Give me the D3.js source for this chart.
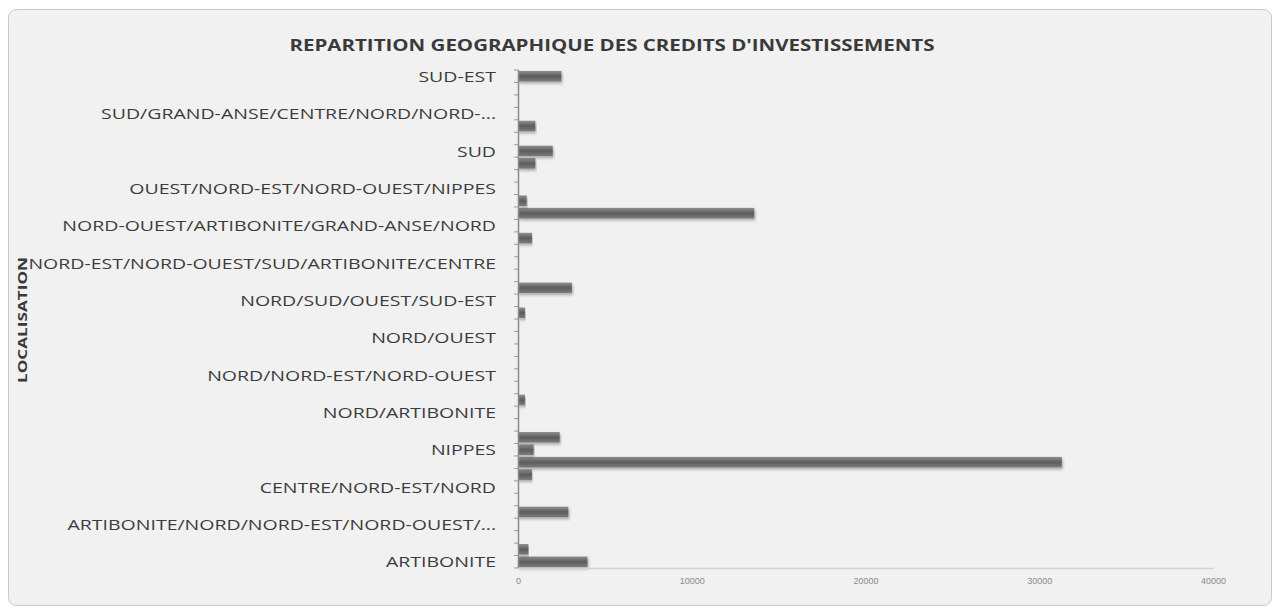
<!DOCTYPE html>
<html><head><meta charset="utf-8">
<script src="https://cdn.jsdelivr.net/npm/d3@7"></script>
<style>
html,body{margin:0;padding:0;background:#fff;}
svg{display:block;}
</style></head>
<body>
<svg id="c" width="1280" height="610"></svg>
<script>
const categories = [
"ARTIBONITE","ARTIBONITE/CENTRE","ARTIBONITE/NORD","ARTIBONITE/NORD/NORD-EST/NORD-OUEST/...","ARTIBONITE/OUEST",
"CENTRE","CENTRE/NORD-EST/NORD","GRAND-ANSE","NATIONAL","NIPPES",
"NORD","NORD-EST","NORD/ARTIBONITE","NORD/CENTRE","NORD/NORD-EST",
"NORD/NORD-EST/NORD-OUEST","NORD/NORD-OUEST","NORD/NORD-OUEST/ARTIBONITE","NORD/OUEST","NORD/SUD",
"NORD/SUD/OUEST","NORD/SUD/OUEST/SUD-EST","NORD/SUD-EST","NORD-EST/CENTRE","NORD-EST/NORD-OUEST/SUD/ARTIBONITE/CENTRE",
"NORD-OUEST","NORD-OUEST/ARTIBONITE","NORD-OUEST/ARTIBONITE/GRAND-ANSE/NORD","OUEST","OUEST/NIPPES",
"OUEST/NORD-EST/NORD-OUEST/NIPPES","OUEST/SUD","OUEST/SUD-EST","SUD","SUD/GRAND-ANSE",
"SUD/GRAND-ANSE/CENTRE","SUD/GRAND-ANSE/CENTRE/NORD/NORD-...","SUD/NIPPES","SUD/OUEST","SUD-EST"
];
const values = [
4000,600,0,0,2900,
0,0,800,31300,900,
2400,0,0,400,0,
0,0,0,0,0,
400,0,3100,0,0,
0,800,0,13600,500,
0,0,1000,2000,0,
1000,0,0,0,2500
];
const xTicks = [0,10000,20000,30000,40000];
const xTickLabels = ["0","10000","20000","30000","40000"];
const title = "REPARTITION GEOGRAPHIQUE DES CREDITS D'INVESTISSEMENTS";
const yTitle = "LOCALISATION";

const svg = d3.select("#c");
const defs = svg.append("defs");
const g1 = defs.append("linearGradient").attr("id","barg").attr("x1",0).attr("y1",0).attr("x2",0).attr("y2",1);
g1.append("stop").attr("offset","0%").attr("stop-color","#909090");
g1.append("stop").attr("offset","50%").attr("stop-color","#5c5c5c");
g1.append("stop").attr("offset","100%").attr("stop-color","#7c7c7c");
const flt = defs.append("filter").attr("id","sh").attr("x","-5%").attr("y","-50%").attr("width","110%").attr("height","220%");
flt.append("feGaussianBlur").attr("in","SourceAlpha").attr("stdDeviation",1.5).attr("result","b");
flt.append("feOffset").attr("in","b").attr("dx",1).attr("dy",2).attr("result","o");
flt.append("feComponentTransfer").attr("in","o").attr("result","o2").append("feFuncA").attr("type","linear").attr("slope",0.3);
const fm = flt.append("feMerge"); fm.append("feMergeNode").attr("in","o2"); fm.append("feMergeNode").attr("in","SourceGraphic");

// chart background
svg.append("rect").attr("x",8.5).attr("y",9.5).attr("width",1263).attr("height",596)
  .attr("rx",8).attr("fill","#f1f1f1").attr("stroke","#c9c9c9").attr("stroke-width",1);

const pLeft = 518, pRight = 1213, pTop = 70, pBottom = 568;
const x = d3.scaleLinear().domain([0,40000]).range([pLeft,pRight]);
const y = d3.scaleBand().domain(categories.slice().reverse()).range([pTop,pBottom]).paddingInner(0.15).paddingOuter(0.075);

// bars
svg.append("g").selectAll("rect").data(categories).join("rect")
  .attr("x",x(0))
  .attr("y",d=>y(d))
  .attr("height",y.bandwidth())
  .attr("width",(d,i)=>Math.max(0,x(values[i])-x(0)))
  .attr("fill","url(#barg)")
  .attr("filter","url(#sh)");

// y axis
const yAxis = d3.axisLeft(y)
  .tickValues(categories.filter((d,i)=>i%3===0))
  .tickSize(0).tickPadding(22);
const ya = svg.append("g").attr("transform",`translate(${pLeft},0)`).call(yAxis);
ya.select(".domain").remove();
ya.selectAll("text").attr("font-family","'Open Sans', sans-serif").attr("font-size",15)
  .attr("fill","#3c3c3c").attr("dy","0.38em")
  .each(function(){ const w=this.getComputedTextLength(); d3.select(this).attr("textLength",w*1.3).attr("lengthAdjust","spacingAndGlyphs"); });

// band-boundary ticks
const bstep = (pBottom-pTop)/categories.length;
svg.append("g").selectAll("line").data(d3.range(categories.length+1)).join("line")
  .attr("x1",pLeft-4).attr("x2",pLeft).attr("y1",i=>pTop+i*bstep).attr("y2",i=>pTop+i*bstep)
  .attr("stroke","#9a9a9a").attr("stroke-width",1);
svg.append("line").attr("x1",pLeft+0.5).attr("x2",pLeft+0.5).attr("y1",pTop).attr("y2",pBottom)
  .attr("stroke","#8a8a8a").attr("stroke-width",1.5);

// x axis
const xAxis = d3.axisBottom(x).tickValues(xTicks).tickFormat((d,i)=>xTickLabels[i]).tickSize(0).tickPadding(10);
const xa = svg.append("g").attr("transform",`translate(0,${pBottom})`).call(xAxis);
xa.select(".domain").attr("stroke","#d2d2d2").attr("stroke-width",1.5);
xa.selectAll("text").attr("font-family","'Liberation Sans', sans-serif").attr("font-size",9).attr("fill","#8a8a8a");

// title
svg.append("text").attr("x",612).attr("y",51).attr("text-anchor","middle")
  .attr("font-family","'Open Sans', sans-serif").attr("font-weight","bold").attr("font-size",16)
  .attr("fill","#3a3a3a").attr("textLength",645).attr("lengthAdjust","spacingAndGlyphs").text(title);

// y title
svg.append("text").attr("transform","translate(27,320) rotate(-90)").attr("text-anchor","middle")
  .attr("font-family","'Open Sans', sans-serif").attr("font-weight","bold").attr("font-size",13)
  .attr("fill","#3a3a3a").attr("textLength",126).attr("lengthAdjust","spacingAndGlyphs").text(yTitle);
</script>
</body></html>
